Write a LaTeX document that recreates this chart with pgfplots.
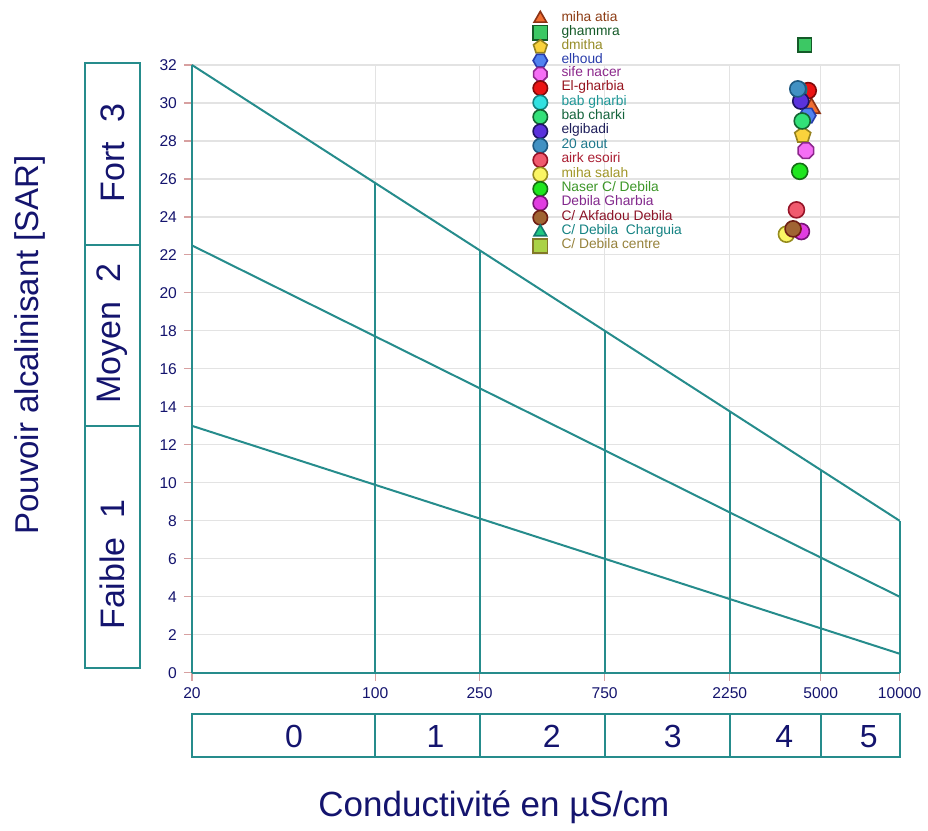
\documentclass[border=0pt]{standalone}
\usepackage{pgfplots}
\pgfplotsset{compat=1.18}
\usepackage{fontspec}
\setmainfont{Liberation Sans}
\usetikzlibrary{plotmarks}
\definecolor{tealc}{RGB}{38,140,140}
\definecolor{navyc}{RGB}{20,20,110}
\definecolor{tickc}{RGB}{215,160,160}
% marker fills / draws / text
\definecolor{f1}{RGB}{240,110,50}\definecolor{d1}{RGB}{140,50,20}\definecolor{t1}{RGB}{140,60,20}
\definecolor{f2}{RGB}{60,200,100}\definecolor{d2}{RGB}{20,90,40}\definecolor{t2}{RGB}{20,90,40}
\definecolor{f3}{RGB}{250,210,60}\definecolor{d3}{RGB}{150,130,30}\definecolor{t3}{RGB}{150,140,40}
\definecolor{f4}{RGB}{80,130,240}\definecolor{d4}{RGB}{40,60,170}\definecolor{t4}{RGB}{40,60,170}
\definecolor{f5}{RGB}{245,110,245}\definecolor{d5}{RGB}{140,40,140}\definecolor{t5}{RGB}{140,40,140}
\definecolor{f6}{RGB}{235,20,20}\definecolor{d6}{RGB}{130,10,10}\definecolor{t6}{RGB}{150,20,30}
\definecolor{f7}{RGB}{50,225,225}\definecolor{d7}{RGB}{20,130,130}\definecolor{t7}{RGB}{30,150,150}
\definecolor{f8}{RGB}{50,225,120}\definecolor{d8}{RGB}{20,100,50}\definecolor{t8}{RGB}{20,100,60}
\definecolor{f9}{RGB}{90,50,220}\definecolor{d9}{RGB}{30,20,100}\definecolor{t9}{RGB}{30,30,90}
\definecolor{f10}{RGB}{65,145,195}\definecolor{d10}{RGB}{30,90,130}\definecolor{t10}{RGB}{30,120,140}
\definecolor{f11}{RGB}{240,90,110}\definecolor{d11}{RGB}{150,20,40}\definecolor{t11}{RGB}{170,30,50}
\definecolor{f12}{RGB}{250,245,100}\definecolor{d12}{RGB}{150,140,30}\definecolor{t12}{RGB}{160,150,40}
\definecolor{f13}{RGB}{30,230,30}\definecolor{d13}{RGB}{20,110,20}\definecolor{t13}{RGB}{60,150,40}
\definecolor{f14}{RGB}{225,60,225}\definecolor{d14}{RGB}{120,20,120}\definecolor{t14}{RGB}{130,40,140}
\definecolor{f15}{RGB}{160,100,50}\definecolor{d15}{RGB}{110,30,20}\definecolor{t15}{RGB}{140,20,40}
\definecolor{f16}{RGB}{30,200,130}\definecolor{d16}{RGB}{20,120,110}\definecolor{t16}{RGB}{20,130,130}
\definecolor{f17}{RGB}{170,210,70}\definecolor{d17}{RGB}{130,120,40}\definecolor{t17}{RGB}{150,130,60}
\pgfdeclareplotmark{hex*}{%
  \pgfpathmoveto{\pgfpointpolar{0}{\pgfplotmarksize}}%
  \pgfpathlineto{\pgfpointpolar{60}{\pgfplotmarksize}}%
  \pgfpathlineto{\pgfpointpolar{120}{\pgfplotmarksize}}%
  \pgfpathlineto{\pgfpointpolar{180}{\pgfplotmarksize}}%
  \pgfpathlineto{\pgfpointpolar{240}{\pgfplotmarksize}}%
  \pgfpathlineto{\pgfpointpolar{300}{\pgfplotmarksize}}%
  \pgfpathclose\pgfusepathqfillstroke}
\pgfdeclareplotmark{oct*}{%
  \pgfpathmoveto{\pgfpointpolar{22.5}{\pgfplotmarksize}}%
  \pgfpathlineto{\pgfpointpolar{67.5}{\pgfplotmarksize}}%
  \pgfpathlineto{\pgfpointpolar{112.5}{\pgfplotmarksize}}%
  \pgfpathlineto{\pgfpointpolar{157.5}{\pgfplotmarksize}}%
  \pgfpathlineto{\pgfpointpolar{202.5}{\pgfplotmarksize}}%
  \pgfpathlineto{\pgfpointpolar{247.5}{\pgfplotmarksize}}%
  \pgfpathlineto{\pgfpointpolar{292.5}{\pgfplotmarksize}}%
  \pgfpathlineto{\pgfpointpolar{337.5}{\pgfplotmarksize}}%
  \pgfpathclose\pgfusepathqfillstroke}
\begin{document}
\begin{tikzpicture}
\begin{axis}[
  scale only axis, width=354pt, height=304pt,
  xmode=log, xmin=20, xmax=10000, ymin=0, ymax=32,
  xtick={20,100,250,750,2250,5000,10000},
  xticklabels={20,100,250,750,2250,5000,10000},
  ytick={0,2,...,32}, minor tick num=0,
  grid=major, grid style={gray!22, line width=0.6pt},
  axis x line*=bottom, axis y line*=left,
  axis line style={-, tealc, line width=1pt},
  tick align=outside, major tick length=4pt,
  tick style={tickc, line width=0.6pt},
  ticklabel style={font=\fontsize{7.8}{9}\selectfont, text=navyc},
  /pgf/number format/assume math mode=true,
  clip=false,
  legend cell align=left,
  legend image post style={mark size=3.6pt},
  legend style={draw=none, fill=none, inner sep=0pt, row sep=0pt, column sep=6.5pt,
    at={(rel axis cs:0.4815,1.0888)}, anchor=north west,
    font=\fontsize{6.9}{7}\selectfont,
    nodes={inner xsep=0.5pt, inner ysep=0pt, text height=4.7pt, text depth=2.1pt}},
]
% class boundary lines
\addplot[tealc, line width=1pt, forget plot] coordinates {(20,13) (10000,1)};
\addplot[tealc, line width=1pt, forget plot] coordinates {(20,22.5) (10000,4)};
\addplot[tealc, line width=1pt, forget plot] coordinates {(20,32) (10000,8)};
\addplot[tealc, line width=1pt, forget plot] coordinates {(100,0) (100,25.78)};
\addplot[tealc, line width=1pt, forget plot] coordinates {(250,0) (250,22.25)};
\addplot[tealc, line width=1pt, forget plot] coordinates {(750,0) (750,18.0)};
\addplot[tealc, line width=1pt, forget plot] coordinates {(2250,0) (2250,13.76)};
\addplot[tealc, line width=1pt, forget plot] coordinates {(5000,0) (5000,10.68)};
\addplot[tealc, line width=1pt, forget plot] coordinates {(10000,0) (10000,8)};
% samples
\addplot[only marks, mark=triangle*, mark size=5pt, mark options={fill=f1, draw=d1, line width=0.8pt}] coordinates {(4609,29.72)};
\addlegendentry{\textcolor{t1}{miha atia}}
\addplot[only marks, mark=square*, mark size=3.4pt, mark options={fill=f2, draw=d2, line width=0.8pt}] coordinates {(4346,33.05)};
\addlegendentry{\textcolor{t2}{ghammra}}
\addplot[only marks, mark=pentagon*, mark size=4.2pt, mark options={fill=f3, draw=d3, line width=0.8pt}] coordinates {(4270,28.3)};
\addlegendentry{\textcolor{t3}{dmitha}}
\addplot[only marks, mark=hex*, mark size=4.2pt, mark options={fill=f4, draw=d4, line width=0.8pt}] coordinates {(4451,29.33)};
\addlegendentry{\textcolor{t4}{elhoud}}
\addplot[only marks, mark=oct*, mark size=4.2pt, mark options={fill=f5, draw=d5, line width=0.8pt}] coordinates {(4390,27.49)};
\addlegendentry{\textcolor{t5}{sife nacer}}
\addplot[only marks, mark=*, mark size=4pt, mark options={fill=f6, draw=d6, line width=0.8pt}] coordinates {(4480,30.65)};
\addlegendentry{\textcolor{t6}{El-gharbia}}
\addplot[only marks, mark=*, mark size=4pt, mark options={fill=f7, draw=d7, line width=0.8pt}] coordinates {(4120,30.7)};
\addlegendentry{\textcolor{t7}{bab gharbi}}
\addplot[only marks, mark=*, mark size=4pt, mark options={fill=f8, draw=d8, line width=0.8pt}] coordinates {(4250,29.05)};
\addlegendentry{\textcolor{t8}{bab charki}}
\addplot[only marks, mark=*, mark size=4pt, mark options={fill=f9, draw=d9, line width=0.8pt}] coordinates {(4196,30.1)};
\addlegendentry{\textcolor{t9}{elgibadi}}
\addplot[only marks, mark=*, mark size=4pt, mark options={fill=f10, draw=d10, line width=0.8pt}] coordinates {(4088,30.74)};
\addlegendentry{\textcolor{t10}{20 aout}}
\addplot[only marks, mark=*, mark size=4pt, mark options={fill=f11, draw=d11, line width=0.8pt}] coordinates {(4040,24.37)};
\addlegendentry{\textcolor{t11}{airk esoiri}}
\addplot[only marks, mark=*, mark size=4pt, mark options={fill=f12, draw=d12, line width=0.8pt}] coordinates {(3701,23.09)};
\addlegendentry{\textcolor{t12}{miha salah}}
\addplot[only marks, mark=*, mark size=4pt, mark options={fill=f13, draw=d13, line width=0.8pt}] coordinates {(4159,26.4)};
\addlegendentry{\textcolor{t13}{Naser C/ Debila}}
\addplot[only marks, mark=*, mark size=4pt, mark options={fill=f14, draw=d14, line width=0.8pt}] coordinates {(4220,23.23)};
\addlegendentry{\textcolor{t14}{Debila Gharbia}}
\addplot[only marks, mark=*, mark size=4pt, mark options={fill=f15, draw=d15, line width=0.8pt}] coordinates {(3922,23.37)};
\addlegendentry{\textcolor{t15}{C/ Akfadou Debila}}
\addlegendimage{only marks, mark=triangle*, mark size=4.3pt, mark options={fill=f16, draw=d16, line width=0.8pt}}
\addlegendentry{\textcolor{t16}{C/ Debila\ \ Charguia}}
\addlegendimage{only marks, mark=square*, mark size=3.1pt, mark options={fill=f17, draw=d17, line width=0.8pt}}
\addlegendentry{\textcolor{t17}{C/ Debila centre}}
% left class boxes
\draw[tealc, line width=1pt] (rel axis cs:-0.15113,0.008) rectangle (rel axis cs:-0.07345,0.40625);
\draw[tealc, line width=1pt] (rel axis cs:-0.15113,0.40625) rectangle (rel axis cs:-0.07345,0.703125);
\draw[tealc, line width=1pt] (rel axis cs:-0.15113,0.703125) rectangle (rel axis cs:-0.07345,1.003);
\node[rotate=90, text=navyc, font=\fontsize{17}{18}\selectfont] at (rel axis cs:-0.1123,0.8553) {Fort\ \ 3};
\node[rotate=90, text=navyc, font=\fontsize{17}{18}\selectfont] at (rel axis cs:-0.1123,0.5576) {Moyen\ \ 2};
\node[rotate=90, text=navyc, font=\fontsize{17}{18}\selectfont] at (rel axis cs:-0.1123,0.178) {Faible\ \ 1};
% bottom class boxes
\draw[tealc, line width=1pt] (rel axis cs:0,-0.06743) rectangle (rel axis cs:1,-0.13816);
\draw[tealc, line width=1pt] (rel axis cs:0.25898,-0.06743) -- (rel axis cs:0.25898,-0.13816);
\draw[tealc, line width=1pt] (rel axis cs:0.40642,-0.06743) -- (rel axis cs:0.40642,-0.13816);
\draw[tealc, line width=1pt] (rel axis cs:0.58320,-0.06743) -- (rel axis cs:0.58320,-0.13816);
\draw[tealc, line width=1pt] (rel axis cs:0.75998,-0.06743) -- (rel axis cs:0.75998,-0.13816);
\draw[tealc, line width=1pt] (rel axis cs:0.88847,-0.06743) -- (rel axis cs:0.88847,-0.13816);
\node[text=navyc, font=\fontsize{16}{18}\selectfont] at (rel axis cs:0.1441,-0.1053) {0};
\node[text=navyc, font=\fontsize{16}{18}\selectfont] at (rel axis cs:0.3441,-0.1053) {1};
\node[text=navyc, font=\fontsize{16}{18}\selectfont] at (rel axis cs:0.5085,-0.1053) {2};
\node[text=navyc, font=\fontsize{16}{18}\selectfont] at (rel axis cs:0.6794,-0.1053) {3};
\node[text=navyc, font=\fontsize{16}{18}\selectfont] at (rel axis cs:0.8370,-0.1053) {4};
\node[text=navyc, font=\fontsize{16}{18}\selectfont] at (rel axis cs:0.9562,-0.1053) {5};
% titles
\node[text=navyc, font=\fontsize{17.5}{19}\selectfont] at (rel axis cs:0.4266,-0.222) {Conductivité en µS/cm};
\node[rotate=90, text=navyc, font=\fontsize{16.5}{18}\selectfont] at (rel axis cs:-0.2288,0.5395) {Pouvoir alcalinisant [SAR]};
% bounding box corners
\coordinate (bbTL) at (rel axis cs:-0.27119,1.10691);
\coordinate (bbBR) at (rel axis cs:1.03955,-0.25493);
\end{axis}
\path (bbTL) rectangle (bbBR);
\end{tikzpicture}
\end{document}
